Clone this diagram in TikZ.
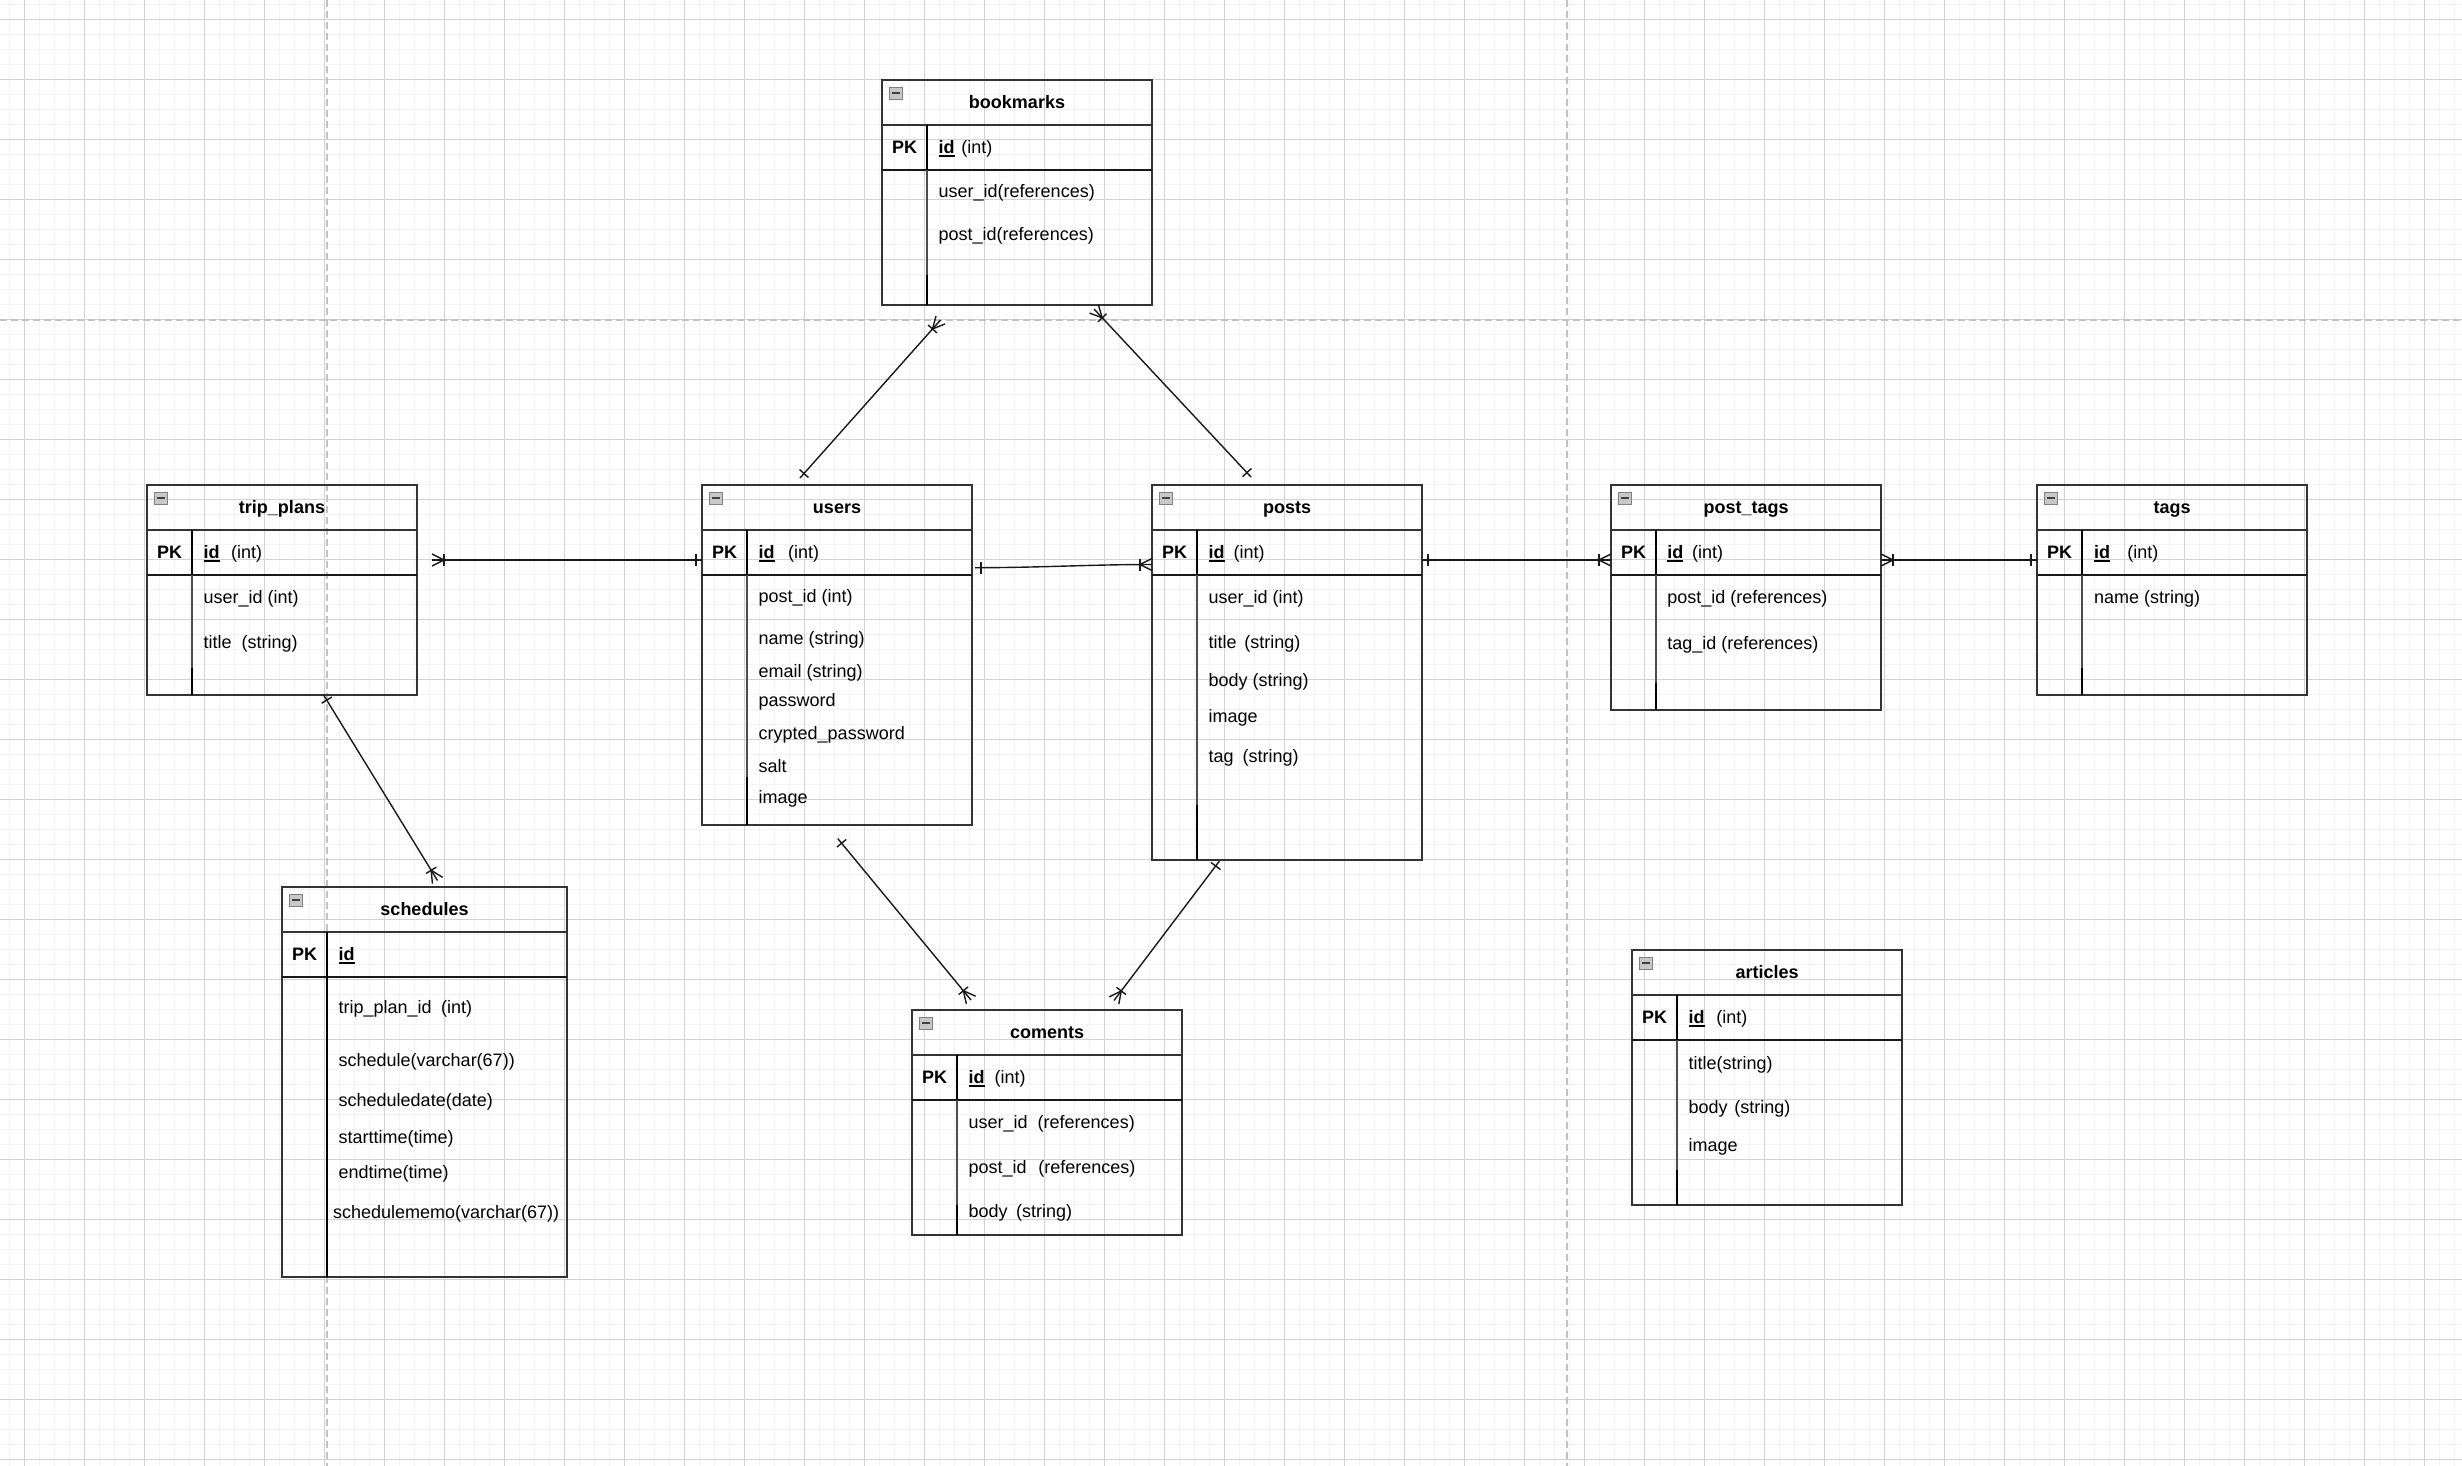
\documentclass[tikz,border=0pt]{standalone}
\usepackage{fontspec}
\setmainfont{Liberation Sans}
\usetikzlibrary{calc}

\definecolor{gridminor}{HTML}{F3F3F3}
\definecolor{gridmajor}{HTML}{D2D2D2}
\definecolor{pagebreak}{HTML}{C2C2C2}
\definecolor{tborder}{HTML}{333333}
\definecolor{iconfill}{HTML}{C8C8C8}
\definecolor{iconedge}{HTML}{808080}

\newcommand{\idu}{\setbox0\hbox{id}\rlap{\rule[-1.8pt]{\wd0}{0.75pt}}id}

% #1 name, #2 left, #3 top, #4 width, #5 height, #6 title, #7 start of lower thick divider part (px below top)
\newcommand{\ertable}[7]{%
  \node[tbox, minimum width=#4*0.5pt, minimum height=#5*0.5pt, anchor=north west] (#1) at (#2,#3) {};
  \draw[tline] ($(#1.north west)+(0,45)$) -- ($(#1.north east)+(0,45)$);
  \draw[pkline] ($(#1.north west)+(0,90)$) -- ($(#1.north east)+(0,90)$);
  \draw[pkline, line width=1.35pt] ($(#1.north east)+(-44,90)$) -- ($(#1.north east)+(0,90)$);
  \draw[divthin] ($(#1.north west)+(45,45)$) -- ($(#1.south west)+(45,0)$);
  \draw[divthick] ($(#1.north west)+(45,45)$) -- ($(#1.north west)+(45,90)$);
  \draw[divthick] ($(#1.north west)+(45,#7)$) -- ($(#1.south west)+(45,0)$);
  \draw[icon] ($(#1.north west)+(7,7)$) rectangle ++(13,12);
  \draw[iconbar] ($(#1.north west)+(9.5,13)$) -- ++(8,0);
  \node[ttl] (#1-title) at ($(#1.north)+(0,28.5)$) {#6};
  \node[ttl] (#1-pk) at ($(#1.north west)+(22.5,73.3)$) {PK};
}

% crow's foot (many, with bar): tips at #1, line towards #2
\newcommand{\erfoot}[2]{%
  \coordinate (#1-v) at ($(#1)!6pt!(#2)$);
  \draw[conn] ($(#1)!3pt!90:(#2)$) -- (#1-v) -- ($(#1)!3pt!-90:(#2)$);
  \draw[conn] ($(#1-v)!3pt!90:(#2)$) -- ($(#1-v)!3pt!-90:(#2)$);
}
% single bar (one): end at #1, line towards #2
\newcommand{\erone}[2]{%
  \coordinate (#1-o) at ($(#1)!3pt!(#2)$);
  \draw[conn] ($(#1-o)!3pt!90:(#2)$) -- ($(#1-o)!3pt!-90:(#2)$);
}

\begin{document}
\begin{tikzpicture}[x=0.5pt,y=-0.5pt,
  gminor/.style={draw=gridminor, line width=0.75pt},
  gmajor/.style={draw=gridmajor, line width=0.6pt},
  pagebrk/.style={draw=pagebreak, line width=1pt, dash pattern=on 3.5pt off 2pt},
  tbox/.style={draw=tborder, line width=0.95pt, inner sep=0pt, outer sep=0pt, rectangle},
  tline/.style={draw=tborder, line width=0.95pt},
  pkline/.style={draw=black!90, line width=0.95pt},
  divthin/.style={draw=black!70, line width=0.6pt},
  divthick/.style={draw=black, line width=1.05pt},
  icon/.style={draw=iconedge, fill=iconfill, line width=0.4pt},
  iconbar/.style={draw=black!75, line width=1.1pt},
  conn/.style={draw=black!90, line width=0.7pt},
  txt/.style={inner sep=0pt, font=\fontsize{9pt}{10.8pt}\selectfont},
  fld/.style={txt, anchor=base west},
  pkid/.style={txt, anchor=base west, font=\fontsize{9pt}{10.8pt}\selectfont\bfseries},
  ttl/.style={txt, anchor=base, font=\fontsize{9pt}{10.8pt}\selectfont\bfseries}
]
\useasboundingbox (0,0) rectangle (2462,1466);
\fill[white] (0,0) rectangle (2462,1466);

% grid
\foreach \i in {0,...,164} { \draw[gminor] ({9.3+15*\i},0) -- ({9.3+15*\i},1466); }
\foreach \j in {0,...,97} { \draw[gminor] (0,{4.3+15*\j}) -- (2462,{4.3+15*\j}); }
\foreach \i in {0,...,40} { \draw[gmajor] ({24.3+60*\i},0) -- ({24.3+60*\i},1466); }
\foreach \j in {0,...,24} { \draw[gmajor] (0,{19.3+60*\j}) -- (2462,{19.3+60*\j}); }
% page breaks
\draw[pagebrk] (326.7,0) -- (326.7,1466);
\draw[pagebrk] (1567.2,0) -- (1567.2,1466);
\draw[pagebrk] (0,319.7) -- (2462,319.7);

% tables
\ertable{bm}{882}{80}{270}{225}{bookmarks}{195}
\node[pkid] (bm-id) at (938.3,153.3) {\idu};
\node[fld] (bm-idt) at (961,153.3) {(int)};
\node[fld] (bm-r1) at (938.3,197.5) {user\_id(references)};
\node[fld] (bm-r2) at (938.3,241) {post\_id(references)};

\ertable{tp}{147}{485}{270}{210}{trip\_plans}{183}
\node[pkid] (tp-id) at (203.3,558.3) {\idu};
\node[fld] (tp-idt) at (230.7,558.3) {(int)};
\node[fld] (tp-r1) at (203.3,603.8) {user\_id (int)};
\node[fld] (tp-r2) at (203.3,648.8) {title\hspace{5pt}(string)};

\ertable{us}{702}{485}{270}{340}{users}{292}
\node[pkid] (us-id) at (758.3,558.3) {\idu};
\node[fld] (us-idt) at (787.7,558.3) {(int)};
\node[fld] (us-r1) at (758.3,602.3) {post\_id (int)};
\node[fld] (us-r2) at (758.3,644) {name (string)};
\node[fld] (us-r3) at (758.3,677.3) {email (string)};
\node[fld] (us-r4) at (758.3,706.7) {password};
\node[fld] (us-r5) at (758.3,739.3) {crypted\_password};
\node[fld] (us-r6) at (758.3,772.3) {salt};
\node[fld] (us-r7) at (758.3,803.5) {image};

\ertable{po}{1152}{485}{270}{375}{posts}{320}
\node[pkid] (po-id) at (1208.3,558.3) {\idu};
\node[fld] (po-idt) at (1233.3,558.3) {(int)};
\node[fld] (po-r1) at (1208.3,603) {user\_id (int)};
\node[fld] (po-r2) at (1208.3,648) {title\hspace{3.85pt}(string)};
\node[fld] (po-r3) at (1208.3,686.3) {body (string)};
\node[fld] (po-r4) at (1208.3,722.8) {image};
\node[fld] (po-r5) at (1208.3,762) {tag\hspace{4.5pt}(string)};

\ertable{sc}{282}{887}{285}{390}{schedules}{90}
\node[pkid] (sc-id) at (338.3,960.3) {\idu};
\node[fld] (sc-r1) at (338.3,1013) {trip\_plan\_id\hspace{4.7pt}(int)};
\node[fld] (sc-r2) at (338.3,1066.3) {schedule(varchar(67))};
\node[fld] (sc-r3) at (338.3,1106.3) {scheduledate(date)};
\node[fld] (sc-r4) at (338.3,1143) {starttime(time)};
\node[fld] (sc-r5) at (338.3,1178) {endtime(time)};
\node[fld] (sc-r6) at (332.7,1218) {schedulememo(varchar(67))};

\ertable{co}{912}{1010}{270}{225}{coments}{195}
\node[pkid] (co-id) at (968.3,1083.3) {\idu};
\node[fld] (co-idt) at (994.3,1083.3) {(int)};
\node[fld] (co-r1) at (968.3,1128.6) {user\_id\hspace{5pt}(references)};
\node[fld] (co-r2) at (968.3,1173) {post\_id\hspace{5.8pt}(references)};
\node[fld] (co-r3) at (968.3,1217) {body\hspace{4.2pt}(string)};

\ertable{pt}{1611}{485}{270}{225}{post\_tags}{198}
\node[pkid] (pt-id) at (1667,558.3) {\idu};
\node[fld] (pt-idt) at (1691.8,558.3) {(int)};
\node[fld] (pt-r1) at (1667,603.6) {post\_id (references)};
\node[fld] (pt-r2) at (1667,649) {tag\_id (references)};

\ertable{tg}{2037}{485}{270}{210}{tags}{183}
\node[pkid] (tg-id) at (2093.6,558.3) {\idu};
\node[fld] (tg-idt) at (2127,558.3) {(int)};
\node[fld] (tg-r1) at (2093.6,603.3) {name (string)};

\ertable{ar}{1632}{950}{270}{255}{articles}{220}
\node[pkid] (ar-id) at (1688.3,1023.3) {\idu};
\node[fld] (ar-idt) at (1716,1023.3) {(int)};
\node[fld] (ar-r1) at (1688.3,1069) {title(string)};
\node[fld] (ar-r2) at (1688.3,1113) {body\hspace{3.3pt}(string)};
\node[fld] (ar-r3) at (1688.3,1151.3) {image};

% connector end points
\coordinate (c1a) at ($(tp.north east)+(15,75)$);
\coordinate (c1b) at ($(us.north west)+(0,75)$);
\coordinate (c2a) at ($(us.north east)+(3,82.7)$);
\coordinate (c2b) at ($(po.north west)+(0,79.5)$);
\coordinate (c2ah) at (1030,567.7);
\coordinate (c2bh) at (1100,564.5);
\coordinate (c3a) at ($(po.north east)+(0,75)$);
\coordinate (c3b) at ($(pt.north west)+(0,75)$);
\coordinate (c4a) at ($(pt.north east)+(0,75)$);
\coordinate (c4b) at ($(tg.north west)+(0,75)$);
\coordinate (c5a) at ($(bm.south west)+(58.5,15)$);
\coordinate (c5b) at ($(us.north west)+(98,-7)$);
\coordinate (c6a) at ($(bm.south west)+(212,4)$);
\coordinate (c6b) at ($(po.north west)+(99,-8)$);
\coordinate (c7a) at ($(tp.south west)+(176.6,0)$);
\coordinate (c7b) at ($(sc.north west)+(155.5,-6.5)$);
\coordinate (c8a) at ($(us.south west)+(135.8,13.6)$);
\coordinate (c8b) at ($(co.north west)+(59,-10)$);
\coordinate (c9a) at ($(po.south west)+(67.3,1.2)$);
\coordinate (c9b) at ($(co.north west)+(202,-9.5)$);

% connectors
\draw[conn] (c1a) -- (c1b);
\erfoot{c1a}{c1b} \erone{c1b}{c1a}

\draw[conn] (c2a) .. controls (1040,567.7) and (1090,564.5) .. (c2b);
\erone{c2a}{c2ah} \erfoot{c2b}{c2bh}

\draw[conn] (c3a) -- (c3b);
\erone{c3a}{c3b} \erfoot{c3b}{c3a}

\draw[conn] (c4a) -- (c4b);
\erfoot{c4a}{c4b} \erone{c4b}{c4a}

\draw[conn] (c5a) -- (c5b);
\erfoot{c5a}{c5b} \erone{c5b}{c5a}

\draw[conn] (c6a) -- (c6b);
\erfoot{c6a}{c6b} \erone{c6b}{c6a}

\draw[conn] (c7a) -- (c7b);
\erone{c7a}{c7b} \erfoot{c7b}{c7a}

\draw[conn] (c8a) -- (c8b);
\erone{c8a}{c8b} \erfoot{c8b}{c8a}

\draw[conn] (c9a) -- (c9b);
\erone{c9a}{c9b} \erfoot{c9b}{c9a}
\end{tikzpicture}
\end{document}
